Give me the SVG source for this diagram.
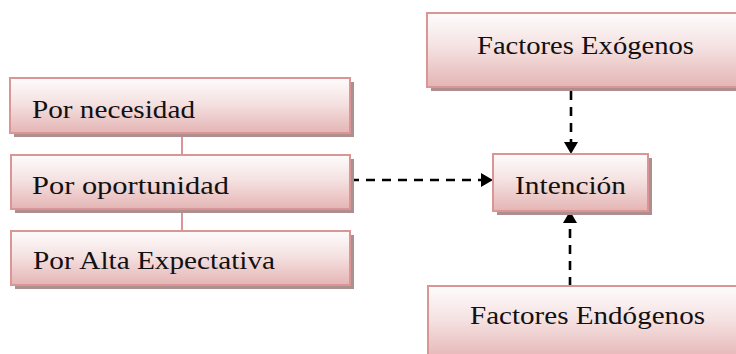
<svg xmlns="http://www.w3.org/2000/svg" width="736" height="354" viewBox="0 0 736 354">
<defs>
<linearGradient id="g" x1="0" y1="0" x2="0" y2="1">
<stop offset="0" stop-color="#fefcfc"/>
<stop offset="0.45" stop-color="#f5e2e2"/>
<stop offset="1" stop-color="#e4b5b4"/>
</linearGradient>
<marker id="ah" viewBox="0 0 12 14" refX="12" refY="7" markerWidth="13" markerHeight="14" markerUnits="userSpaceOnUse" orient="auto">
<path d="M0,0 L12,7 L0,14 Z" fill="#000"/>
</marker>
<style>
.box{fill:url(#g);stroke:#d99694;stroke-width:2}
.sh{fill:#ad8f8f}
.t{font-family:"Liberation Serif","Times New Roman",serif;font-size:26px;fill:#111}
.dash{stroke:#000;stroke-width:2.6;stroke-dasharray:9,7;fill:none}
.lnk{stroke:#d99694;stroke-width:2;fill:none}
</style>
</defs>
<rect width="736" height="354" fill="#fff"/>
<g id="connectors">
<line class="lnk" x1="182" y1="134" x2="182" y2="155"/>
<line class="lnk" x1="182" y1="210" x2="182" y2="231"/>
<line class="dash" x1="350" y1="180" x2="493" y2="180" marker-end="url(#ah)"/>
<line class="dash" x1="571" y1="91" x2="571" y2="154" marker-end="url(#ah)"/>
<line class="dash" x1="570" y1="286" x2="570" y2="211" marker-end="url(#ah)"/>
</g>
<g id="necesidad">
<rect class="sh" x="14" y="82" width="340" height="55"/>
<rect class="box" x="10" y="78" width="340" height="55"/>
<text class="t" x="32" y="118" textLength="163" lengthAdjust="spacingAndGlyphs">Por necesidad</text>
</g>
<g id="oportunidad">
<rect class="sh" x="15" y="159" width="339" height="54"/>
<rect class="box" x="11" y="155" width="339" height="54"/>
<text class="t" x="32" y="194" textLength="197" lengthAdjust="spacingAndGlyphs">Por oportunidad</text>
</g>
<g id="alta">
<rect class="sh" x="15" y="235" width="339" height="54"/>
<rect class="box" x="11" y="231" width="339" height="54"/>
<text class="t" x="33" y="269" textLength="242" lengthAdjust="spacingAndGlyphs">Por Alta Expectativa</text>
</g>
<g id="exogenos">
<rect class="sh" x="431" y="17" width="320" height="74"/>
<rect class="box" x="427" y="13" width="320" height="74"/>
<text class="t" x="477" y="54" textLength="217" lengthAdjust="spacingAndGlyphs">Factores Exógenos</text>
</g>
<g id="intencion">
<rect class="sh" x="497" y="158" width="155" height="57"/>
<rect class="box" x="493" y="154" width="155" height="57"/>
<text class="t" x="515" y="194" textLength="111" lengthAdjust="spacingAndGlyphs">Intención</text>
</g>
<g id="endogenos">
<rect class="sh" x="432" y="290" width="320" height="74"/>
<rect class="box" x="428" y="286" width="320" height="74"/>
<text class="t" x="470" y="324" textLength="235" lengthAdjust="spacingAndGlyphs">Factores Endógenos</text>
</g>
</svg>
